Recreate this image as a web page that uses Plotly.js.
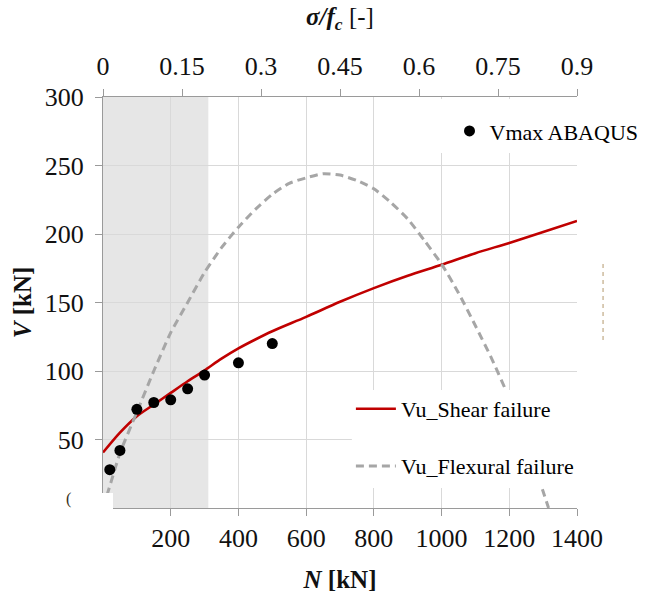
<!DOCTYPE html>
<html>
<head>
<meta charset="utf-8">
<script src="https://cdn.plot.ly/plotly-3.0.1.min.js"></script>
<style>html,body{margin:0;padding:0;background:#fff;}#chart{width:646px;height:593px;}</style>
</head>
<body>
<div id="chart"></div>
<script>
// Shear failure curve (N [kN], V [kN])
const shearN = [0, 50, 100, 150, 200, 250, 300, 350, 400, 450, 500, 600, 700, 800, 900, 1000, 1100, 1200, 1300, 1400];
const shearV = [40.5, 55, 67, 75.5, 84, 92.5, 100.5, 109, 116.5, 123, 129, 139.5, 150.5, 160.5, 169.5, 177.5, 186, 193.5, 201.5, 209.5];
// Flexural failure curve
const flexN = [0, 25, 50, 100, 150, 200, 250, 300, 350, 400, 450, 500, 550, 600, 650, 700, 750, 800, 850, 900, 950, 1000, 1050, 1100, 1150, 1200, 1250, 1300, 1316];
const flexV = [0, 20, 40, 70, 100, 128, 150, 172, 190, 205, 218, 229, 237, 241, 244, 243, 239, 233, 223, 211, 195, 178, 157, 133, 108, 80, 48, 12, 0];
// ABAQUS maximum shear points
const abqN = [20, 50, 100, 150, 200, 250, 300, 400, 500];
const abqV = [28, 42, 72, 77, 79, 87, 97, 106, 120];
// Axis ticks
const xTicks = [200, 400, 600, 800, 1000, 1200, 1400];
const yTicks = [50, 100, 150, 200, 250, 300];
const topTicks = [0, 0.15, 0.3, 0.45, 0.6, 0.75, 0.9];
const topLabels = ["0", "0.15", "0.3", "0.45", "0.6", "0.75", "0.9"];
const shadeLimit = 0.2; // sigma/fc

const FONT = "'Liberation Serif', 'Times New Roman', serif";
const axisCol = "#9a9a9a";
const gridCol = "#d9d9d9";

const traces = [
  {x: shearN, y: shearV, type: "scatter", mode: "lines", name: "Vu_Shear failure",
   line: {color: "#c00000", width: 2.6, shape: "spline", smoothing: 0.8}, legend: "legend2", hoverinfo: "skip"},
  {x: flexN, y: flexV, type: "scatter", mode: "lines", name: "Vu_Flexural failure",
   line: {color: "#a6a6a6", width: 3, dash: "8px,5px", shape: "spline", smoothing: 0.6}, legend: "legend3", hoverinfo: "skip"},
  {x: abqN, y: abqV, type: "scatter", mode: "markers", name: "Vmax ABAQUS",
   marker: {color: "#000", size: 11}, legend: "legend", hoverinfo: "skip"},
  {x: [0, 0.9], y: [null, null], xaxis: "x2", yaxis: "y", type: "scatter", mode: "markers",
   showlegend: false, hoverinfo: "skip"}
];

const legFont = {family: FONT, size: 22, color: "#000"};
const layout = {
  width: 646, height: 593,
  margin: {l: 103, r: 69, t: 97, b: 85, autoexpand: false},
  paper_bgcolor: "#fff", plot_bgcolor: "#fff",
  font: {family: FONT, color: "#111"},
  xaxis: {
    range: [0, 1400], tickvals: xTicks, showgrid: true, gridcolor: gridCol, gridwidth: 1,
    showline: true, linecolor: axisCol, linewidth: 1, ticks: "outside", ticklen: 7, tickcolor: axisCol,
    zeroline: false, tickfont: {family: FONT, size: 26, color: "#111"}, ticklabelstandoff: 0,
    title: {text: "<b><i>N</i> [kN]</b>", font: {family: FONT, size: 25, color: "#111"}}
  },
  xaxis2: {
    overlaying: "x", side: "top", range: [0, 0.9], tickvals: topTicks, ticktext: topLabels,
    showgrid: false, showline: true, linecolor: axisCol, linewidth: 1, ticks: "outside", ticklen: 7,
    tickcolor: axisCol, zeroline: false, tickfont: {family: FONT, size: 26, color: "#111"}, ticklabelstandoff: 4,
    title: {text: "<b><i>σ/f<sub>c</sub></i></b> [-]", font: {family: FONT, size: 25, color: "#111"}}
  },
  yaxis: {
    range: [0, 300], tickvals: yTicks, showgrid: true, gridcolor: gridCol, gridwidth: 1,
    showline: true, linecolor: axisCol, linewidth: 1, ticks: "outside", ticklen: 7, tickcolor: axisCol,
    zeroline: false, tickfont: {family: FONT, size: 26, color: "#111"}, ticklabelstandoff: 6,
    automargin: true,
    title: {text: "<b><i>V</i> [kN]</b>", font: {family: FONT, size: 25, color: "#111"}, standoff: 6}
  },
  showlegend: true,
  legend: {x: 0.731, xanchor: "left", y: 0.917, yanchor: "middle", bgcolor: "rgba(0,0,0,0)", borderwidth: 0, font: legFont},
  legend2: {x: 0.523, xanchor: "left", y: 0.241, yanchor: "middle", bgcolor: "rgba(0,0,0,0)", borderwidth: 0, font: legFont, itemwidth: 40},
  legend3: {x: 0.523, xanchor: "left", y: 0.102, yanchor: "middle", bgcolor: "rgba(0,0,0,0)", borderwidth: 0, font: legFont, itemwidth: 40},
  shapes: [
    {type: "rect", xref: "x2", yref: "paper", x0: 0, x1: shadeLimit, y0: 0, y1: 1,
     fillcolor: "#e6e6e6", line: {width: 0}, layer: "below"},
    {type: "rect", xref: "paper", yref: "paper", x0: 0.711, x1: 1.146, y0: 0.864, y1: 0.995,
     fillcolor: "#fff", line: {width: 0}, layer: "above"},
    {type: "rect", xref: "paper", yref: "paper", x0: 0.525, x1: 1.059, y0: 0.0487, y1: 0.287,
     fillcolor: "#fff", line: {width: 0}, layer: "above"},
    {type: "rect", xref: "paper", yref: "paper", x0: -0.0907, x1: 0.0211, y0: -0.09, y1: 0.0365,
     fillcolor: "#fff", line: {width: 0}, layer: "above"},
    {type: "line", xref: "paper", yref: "paper", x0: 1.055, x1: 1.055, y0: 0.409, y1: 0.596,
     line: {color: "#cdbb9e", width: 1.5, dash: "4px,4px"}, layer: "above"}
  ],
  annotations: [
    {xref: "paper", yref: "paper", x: -0.082, y: -0.004, text: "(", showarrow: false,
     font: {family: FONT, size: 16, color: "#3a3020"}}
  ]
};

Plotly.newPlot("chart", traces, layout, {displayModeBar: false, staticPlot: true});
</script>
</body>
</html>
